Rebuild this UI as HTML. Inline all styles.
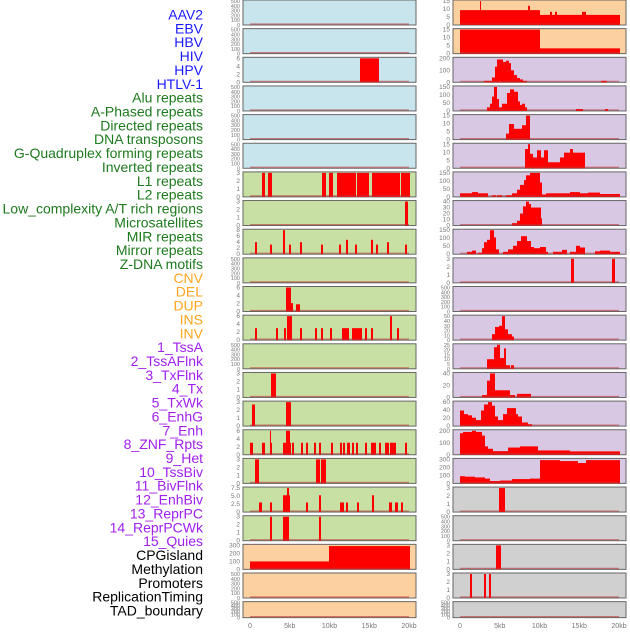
<!DOCTYPE html><html><head><style>body{margin:0;background:#fff;width:630px;height:630px;overflow:hidden}</style></head><body>
<svg id="s" width="630" height="630" xmlns="http://www.w3.org/2000/svg" font-family="Liberation Sans, sans-serif"></svg>
<script>
const s=document.getElementById('s');let h='';
const labels=[["AAV2","#1a1aff"],["EBV","#1a1aff"],["HBV","#1a1aff"],["HIV","#1a1aff"],["HPV","#1a1aff"],["HTLV-1","#1a1aff"],
["Alu repeats","#1e7a1e"],["A-Phased repeats","#1e7a1e"],["Directed repeats","#1e7a1e"],["DNA transposons","#1e7a1e"],["G-Quadruplex forming repeats","#1e7a1e"],["Inverted repeats","#1e7a1e"],["L1 repeats","#1e7a1e"],["L2 repeats","#1e7a1e"],["Low_complexity A/T rich regions","#1e7a1e"],["Microsatellites","#1e7a1e"],["MIR repeats","#1e7a1e"],["Mirror repeats","#1e7a1e"],["Z-DNA motifs","#1e7a1e"],
["CNV","#ffa520"],["DEL","#ffa520"],["DUP","#ffa520"],["INS","#ffa520"],["INV","#ffa520"],
["1_TssA","#a020f0"],["2_TssAFlnk","#a020f0"],["3_TxFlnk","#a020f0"],["4_Tx","#a020f0"],["5_TxWk","#a020f0"],["6_EnhG","#a020f0"],["7_Enh","#a020f0"],["8_ZNF_Rpts","#a020f0"],["9_Het","#a020f0"],["10_TssBiv","#a020f0"],["11_BivFlnk","#a020f0"],["12_EnhBiv","#a020f0"],["13_ReprPC","#a020f0"],["14_ReprPCWk","#a020f0"],["15_Quies","#a020f0"],
["CPGisland","#000"],["Methylation","#000"],["Promoters","#000"],["ReplicationTiming","#000"],["TAD_boundary","#000"]];
labels.forEach((l,i)=>{h+=`<text x="203" y="${19.5+i*13.86}" text-anchor="end" font-size="14" fill="${l[1]}">${l[0]}</text>`});
const C={b:"#c8e4ec",g:"#c8e0a4",o:"#fdd09f",p:"#d8c8e4",r:"#d0d0d0"};
const E="0,100,200,300,400,500";
// bars: [x0,x1,frac] absolute px
const L=[
["b",E,[]],["b",E,[]],["b","0,2,4,6",[[360,379,1]]],["b",E,[]],["b",E,[]],["b",E,[]],
["g","0,1,2,3",[[262,265,1],[268,272,1],[322,326,1],[329,333,1],[337,356,1],[357,369,1],[372,386,1],[385,400,1],[401,410,1]]],
["g","0,1,2,3",[[405,408,1]]],
["g","0,2,4,6,8",[[255,257,.5],[270,272,.4],[283,285,1],[289,291,.4],[300,302,.5],[321,323,.4],[339,341,.4],[346,348,.6],[355,357,.4],[371,373,.6],[376,378,.4],[387,389,.5],[405,407,.4]]],
["g",E,[]],
["g","0,2,4,6",[[286,291,1],[291,293,.35],[296,300,.3]]],
["g","0,2,4,6",[[255,257,.5],[276,278,.5],[284,286,.5],[287,292,1],[300,302,.5],[315,317,.5],[321,323,.5],[330,332,.5],[342,349,.5],[352,362,.5],[365,367,.5],[371,373,.5],[390,392,1],[397,399,.5]]],
["g",E,[]],
["g","0,1,2,3",[[271,276,1]]],
["g","0,1,2,3",[[252,255,.9],[286,291,1]]],
["g","0,2,4,6",[[250,253,.5],[262,265,.5],[270,272,.5],[270,271,1],[283,291,.5],[286,290,1],[292,294,.5],[301,303,.5],[306,308,.5],[314,316,.5],[319,321,.5],[331,333,.5],[340,342,.5],[343,345,.5],[347,350,.5],[352,354,.5],[356,358,.5],[365,367,.5],[371,376,.5],[379,381,.5],[385,389,.5],[390,396,.5],[405,407,.5]]],
["g","0,1,2,3",[[255,259,1],[316,320,1],[321,326,1]]],
["g","0,2.5,5.0,7.5",[[259,262,.4],[270,272,.4],[283,285,.7],[285,290,.7],[287,289,1],[306,308,.4],[319,321,.7],[340,344,.4],[346,348,.4],[357,359,.4],[372,374,.7],[389,392,.4],[395,398,.4],[401,403,.4]]],
["g","0,1,2,3",[[270,272,1],[283,289,1],[319,321,1]]],
["o","0,100,200,300",[[250,329,.33],[329,410,.97]]],
["o",E,[]],["o",E,[]]];
const R=[
["o","0,5,10,15",[[460,540,.62],[480,481,1],[528,530,.8],[540,620,.42],[550,552,.55],[555,557,.55],[582,586,.55]]],
["o","0,5,10,15",[[460,540,1],[540,620,.22]]],
["p","0,100,200",[[484,492,.06],[492,495,.2],[495,497,.65],[497,503,.95],[503,506,.85],[506,509,.9],[509,511,.8],[511,514,.5],[514,517,.3],[517,520,.18],[520,523,.12],[523,527,.06],[601,607,.06]]],
["p","0,50,100,150",[[487,490,.15],[490,492,.3],[492,494,.6],[494,497,1],[497,499,.5],[499,502,.15],[502,504,.3],[504,507,.3],[507,510,.75],[510,514,.9],[514,518,.8],[518,520,.4],[520,522,.25],[522,525,.3],[525,527,.15],[576,583,.08],[605,608,.08]]],
["p","0,5,10,15",[[506,509,.25],[509,514,.65],[514,522,.45],[522,526,.6],[526,530,1]]],
["p","0,5,10,15",[[525,528,.8],[528,530,1],[530,533,.6],[533,537,.45],[537,541,.75],[541,544,.45],[544,548,.75],[548,560,.25],[560,564,.45],[564,570,.65],[570,573,.8],[573,585,.65]]],
["p","0,50,100,150",[[460,472,.15],[472,478,.2],[478,488,.15],[492,496,.07],[497,502,.07],[506,512,.07],[512,517,.15],[517,520,.3],[520,524,.5],[524,526,.7],[526,530,.9],[530,540,1],[540,542,.6],[542,546,.1],[546,555,.15],[555,562,.15],[562,570,.15],[570,580,.2],[580,588,.15],[588,600,.18],[600,620,.12]]],
["p","0,10,20,30,40",[[512,517,.1],[517,520,.2],[520,523,.5],[523,526,.8],[526,529,1],[529,531,.9],[531,541,.75],[541,542,.3]]],
["p","0,50,100,150",[[467,472,.1],[472,476,.15],[478,482,.06],[482,484,.25],[484,487,.5],[487,490,.6],[490,494,1],[494,496,.7],[496,499,.2],[503,508,.1],[508,513,.2],[513,517,.35],[517,521,.55],[521,527,.75],[527,531,.55],[531,534,.3],[534,540,.25],[540,546,.3],[546,548,.1],[553,562,.1],[562,567,.18],[570,576,.1],[576,580,.35],[580,585,.28],[595,600,.12],[600,610,.15],[610,620,.1]]],
["p","0,1,2,3",[[571,574,1],[612,615,1]]],
["p",E,[]],
["p","0,10,20,30,40,50",[[492,495,.25],[495,499,.55],[499,502,.6],[502,505,1],[505,508,.45],[508,512,.25],[512,514,.15]]],
["p","0,5,10,15,20,25",[[487,494,.4],[494,497,.9],[497,500,1],[500,504,.45],[504,506,.85],[506,510,.15],[511,514,.15]]],
["p","0,20,40",[[482,487,.1],[487,490,.7],[490,495,1],[495,499,.3],[499,510,.3],[510,515,.1],[517,522,.15],[522,531,.15]]],
["p","0,20,40,60",[[460,464,.65],[464,468,.5],[468,472,.45],[472,476,.35],[476,481,.25],[481,484,.65],[484,488,.9],[488,492,1],[492,495,.85],[495,498,.4],[498,503,.25],[503,507,.5],[507,516,.75],[516,518,.5],[518,522,.4],[522,528,.15],[528,532,.08]]],
["p","0,100,200",[[460,463,.9],[463,468,.95],[468,472,.95],[472,476,1],[476,482,.95],[482,485,.8],[485,488,.35],[488,493,.25],[493,508,.15],[508,520,.3],[520,527,.35],[527,538,.35],[538,550,.18],[550,570,.18],[570,620,.14]]],
["p","0,100,200,300",[[460,465,.3],[465,475,.28],[475,485,.25],[485,490,.2],[490,500,.1],[500,512,.12],[512,530,.18],[530,540,.2],[540,560,.97],[560,578,.93],[578,586,.85],[586,620,.97]]],
["r","0,1,2,3",[[499,505,1]]],
["r",E,[]],
["r","0,1,2,3",[[496,501,1]]],
["r","0,1,2,3",[[470,472,1],[484,486,1],[489,491,1]]],
["r",E,[]]];
function panel(x0,i,d){const t=i*28.65,ht=i==21?16:25,w=173;
 h+=`<rect x="${x0}" y="${t}" width="${w}" height="${ht}" fill="${C[d[0]]}" stroke="#666" stroke-width="1"/>`;
 const b=t+ht;
 d[2].forEach(r=>{const y=b-r[2]*(ht-1);h+=`<rect x="${r[0]}" y="${y}" width="${r[1]-r[0]}" height="${b-y}" fill="#f00"/>`});
 h+=`<line x1="${x0+7}" y1="${b-1}" x2="${x0+166}" y2="${b-1}" stroke="#b33" stroke-opacity=".6" stroke-width="1.2"/>`;
 const tk=d[1].split(','),n=tk.length-1;
 tk.forEach((v,k)=>{const y=b-k/n*(ht-1)+2;h+=`<text x="${x0-3}" y="${y}" text-anchor="end" font-size="${n>=5?5.5:6.5}" fill="#777">${v}</text>`});
}
L.forEach((d,i)=>panel(243,i,d));R.forEach((d,i)=>panel(453,i,d));
["0","5kb","10kb","15kb","20kb"].forEach((v,k)=>{[250,460].forEach(o=>{h+=`<text x="${o+k*39.75}" y="628" text-anchor="middle" font-size="7" fill="#777">${v}</text>`})});
s.innerHTML=h;
</script></body></html>
